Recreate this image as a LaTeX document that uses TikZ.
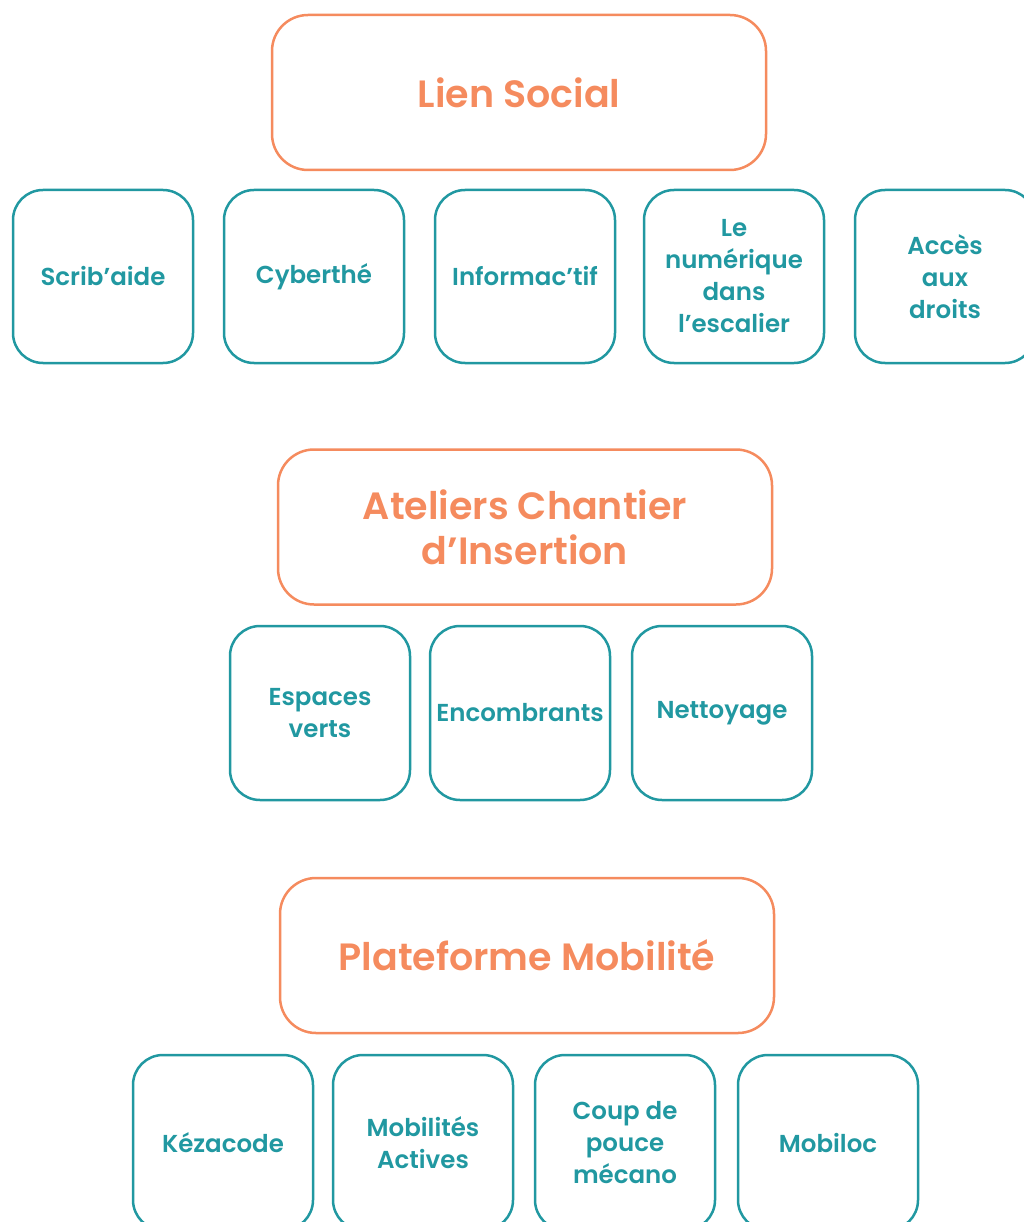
\documentclass[tikz,border=0pt]{standalone}
\usepackage{fontspec}
\setmainfont{Poppins}[BoldFont={Poppins SemiBold}]
\usetikzlibrary{positioning}
\definecolor{coral}{RGB}{245,139,94}
\definecolor{teal}{RGB}{33,152,161}

\begin{document}
\begin{tikzpicture}
    [x=1pt, y=1pt,
     theme/.style={rectangle, rounded corners=36pt, draw=coral, line width=2.5pt, text=coral,
                   minimum width=494pt, minimum height=155pt, outer sep=0pt, align=center,
                   font=\fontsize{38}{45}\selectfont\bfseries},
     action/.style={rectangle, rounded corners=30pt, draw=teal, line width=2.5pt, text=teal,
                    minimum width=180pt, minimum height=173pt, outer sep=0pt, align=center,
                    inner sep=0pt, font=\fontsize{24.5}{32}\selectfont\bfseries}]

    \useasboundingbox (0,0) rectangle (1023,-1222);

    % Lien Social
    \node [theme] (lien) at (519,-92.5) {Lien Social};
    \node [action] (scrib) at (103,-276.5) {Scrib’aide};
    \node [action, right=31pt of scrib] (cyber) {Cyberthé};
    \node [action, right=31pt of cyber] (inform) {Informac’tif};
    \node [action, right=29pt of inform] (escal) {Le\\numérique\\dans\\l’escalier};
    \node [action, right=31pt of escal] (acces) {Accès\\aux\\droits};

    % Ateliers Chantier d'Insertion
    \node [theme] (ateliers) at (525,-527) {Ateliers Chantier\\d’Insertion};
    \node [action, minimum height=174pt] (espaces) at (320,-713) {Espaces\\verts};
    \node [action, minimum height=174pt, right=20pt of espaces] (encomb) {Encombrants};
    \node [action, minimum height=174pt, right=22pt of encomb] (nettoy) {Nettoyage};

    % Plateforme Mobilite
    \node [theme] (mobilite) at (527,-955.5) {Plateforme Mobilité};
    \node [action, minimum height=175pt] (keza) at (223,-1142.5) {Kézacode};
    \node [action, minimum height=175pt, right=20pt of keza] (actives) {Mobilités\\Actives};
    \node [action, minimum height=175pt, right=22pt of actives] (pouce) {Coup de\\pouce\\mécano};
    \node [action, minimum height=175pt, right=23pt of pouce] (mobiloc) {Mobiloc};
\end{tikzpicture}
\end{document}
